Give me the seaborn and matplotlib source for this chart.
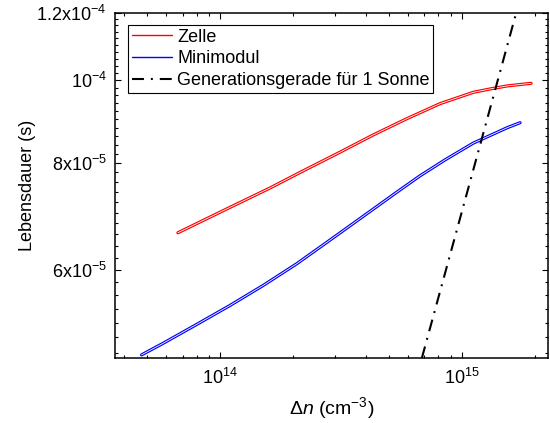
import numpy as np
import pandas as pd
import matplotlib
matplotlib.use('Agg')
import matplotlib.pyplot as plt
import matplotlib.ticker as mticker
import matplotlib.patheffects as pe
from matplotlib.lines import Line2D
import seaborn as sns

# ---- data ----
zelle_dn = [6.70e13, 1.10e14, 1.61e14, 2.20e14, 3.14e14, 4.30e14, 5.94e14,
            8.13e14, 1.114e15, 1.31e15, 1.54e15, 1.935e15]
zelle_tau = [6.63e-5, 7.10e-5, 7.48e-5, 7.83e-5, 8.24e-5, 8.63e-5, 9.02e-5,
             9.39e-5, 9.68e-5, 9.77e-5, 9.85e-5, 9.92e-5]
mini_dn = [4.74e13, 5.81e13, 8.03e13, 1.10e14, 1.506e14, 2.08e14, 2.85e14,
           3.91e14, 5.40e14, 6.72e14, 8.53e14, 1.114e15, 1.54e15, 1.742e15]
mini_tau = [4.77e-5, 4.92e-5, 5.18e-5, 5.45e-5, 5.75e-5, 6.10e-5, 6.50e-5,
            6.93e-5, 7.40e-5, 7.73e-5, 8.07e-5, 8.44e-5, 8.80e-5, 8.92e-5]
gen_dn = [6.84e14, 1.68e15]
gen_tau = [4.73e-5, 1.2e-4]

series_names = ["Zelle", "Minimodul", "Generationsgerade für 1 Sonne"]
ytick_vals = [6e-5, 8e-5, 1e-4, 1.2e-4]
ytick_labels = [r"$6\mathrm{x}10^{-5}$", r"$8\mathrm{x}10^{-5}$",
                r"$10^{-4}$", r"$1.2\mathrm{x}10^{-4}$"]
xtick_vals = [1e14, 1e15]
xtick_labels = [r"$10^{14}$", r"$10^{15}$"]

# ---- style ----
sns.set_theme(style="ticks")
plt.rcParams["font.family"] = ["Liberation Sans", "DejaVu Sans"]
plt.rcParams["mathtext.fontset"] = "custom"
plt.rcParams["mathtext.rm"] = "Liberation Sans"
plt.rcParams["mathtext.it"] = "Liberation Sans:italic"
plt.rcParams["mathtext.bf"] = "Liberation Sans:bold"
plt.rcParams["lines.scale_dashes"] = False
for k in ["text.color", "axes.labelcolor", "xtick.color", "ytick.color"]:
    plt.rcParams[k] = "black"

df_z = pd.DataFrame({"dn": zelle_dn, "tau": zelle_tau})
df_m = pd.DataFrame({"dn": mini_dn, "tau": mini_tau})
df_g = pd.DataFrame({"dn": gen_dn, "tau": gen_tau})

fig = plt.figure(figsize=(5.5, 4.23), dpi=100)
ax = fig.add_axes([115 / 550, 1 - 358 / 423, (548.3 - 115) / 550, (358 - 12.7) / 423])

red = "#FF0000"
blue = "#0000FF"
dashdot = (0, (8.6, 5.0, 1.4, 5.0))

sns.lineplot(data=df_z, x="dn", y="tau", sort=False, color=red, lw=1.0, ax=ax)
sns.lineplot(data=df_m, x="dn", y="tau", sort=False, color=blue, lw=1.0, ax=ax)
sns.lineplot(data=df_g, x="dn", y="tau", sort=False, color="black", lw=1.5,
             linestyle=dashdot, ax=ax)

for ln, c in zip(ax.get_lines()[:2], [red, blue]):
    ln.set_solid_joinstyle("round")
    ln.set_path_effects([pe.Stroke(linewidth=2.3, foreground=c),
                         pe.Stroke(linewidth=0.6, foreground="white")])

ax.set_xscale("log")
ax.set_yscale("log")
ax.set_xlim(3.68e13, 2.28e15)
ax.set_ylim(4.73e-5, 1.2e-4)

ax.set_xticks(xtick_vals, labels=xtick_labels)
ax.xaxis.set_minor_locator(mticker.LogLocator(base=10, subs=np.arange(2, 10)))
ax.xaxis.set_minor_formatter(mticker.NullFormatter())

ax.yaxis.set_major_locator(mticker.FixedLocator(ytick_vals))
ax.yaxis.set_major_formatter(mticker.FixedFormatter(ytick_labels))
ax.yaxis.set_minor_locator(mticker.FixedLocator(np.arange(4.8e-5, 1.2e-4, 2e-6)))
ax.yaxis.set_minor_formatter(mticker.NullFormatter())

ax.tick_params(which="both", direction="in", top=True, right=True,
               color="black", width=0.8)
ax.tick_params(which="major", length=4, labelsize=13, pad=6)
ax.tick_params(which="minor", length=2.2)
ax.tick_params(axis="x", which="major", pad=7)

for s in ax.spines.values():
    s.set_color("black")
    s.set_linewidth(1.1)

ax.set_xlabel(r"$\Delta\mathit{n}\ (\mathrm{cm}^{-3})$", fontsize=14, labelpad=5)
ax.set_ylabel("Lebensdauer (s)", fontsize=13, labelpad=0)

handles = [Line2D([], [], color=red, lw=1.0),
           Line2D([], [], color=blue, lw=1.0),
           Line2D([], [], color="black", lw=1.5, linestyle=dashdot)]
leg = ax.legend(handles, series_names, loc="upper left",
                bbox_to_anchor=((128.3 - 115) / 433.3, 1 - (25 - 12.7) / 345.3),
                borderaxespad=0, fontsize=13, frameon=True, fancybox=False,
                edgecolor="black", framealpha=1, handlelength=2.2,
                handletextpad=0.3, labelspacing=0.26, borderpad=0.2)
leg.get_frame().set_linewidth(0.8)

fig.savefig("out.png", dpi=100)
